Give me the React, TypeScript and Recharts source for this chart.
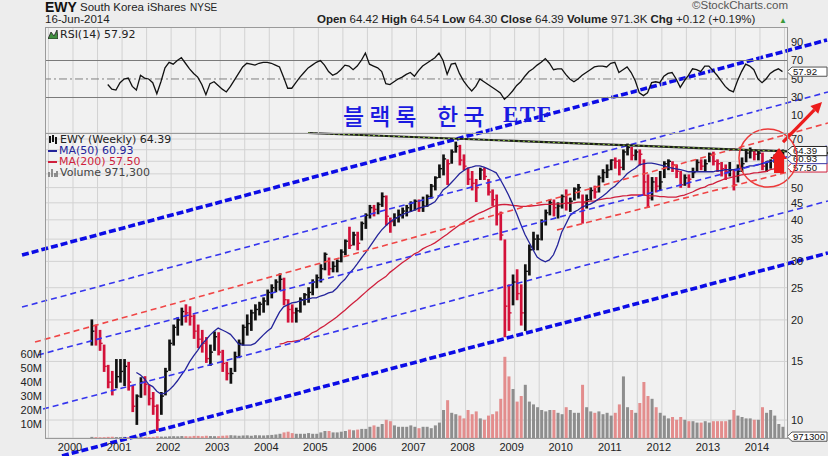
import React from "react";
import {
  ComposedChart,
  LineChart,
  Line,
  Bar,
  XAxis,
  YAxis,
  CartesianGrid,
  ReferenceLine,
  ReferenceDot,
} from "recharts";

// monthly samples, first one is May 2000
const START_YEAR = 2000;
const START_MONTH = 5;

const high = [
  20.0, 19.3, 18.6, 16.8, 14.6, 14.0, 15.2, 15.2,
  15.2, 14.9, 12.7, 11.9, 13.4, 13.5, 12.7, 12.1, 11.1, 12.1, 14.3, 17.4,
  19.3, 20.3, 21.7, 22.2, 21.9, 20.7, 19.3, 18.6, 17.7, 16.8, 18.4, 18.3,
  16.2, 14.9, 14.3, 16.0, 17.4, 19.3, 20.7, 21.4, 22.2, 22.6, 23.3, 24.6,
  25.5, 26.4, 27.5, 26.7, 23.0, 22.2, 21.7, 23.3, 24.0, 25.0, 26.4, 27.3,
  29.3, 31.8, 30.7, 29.9, 30.3, 32.5, 34.8, 38.0, 36.7, 36.7, 39.4, 41.7,
  44.2, 44.2, 45.0, 48.2, 47.2, 40.5, 41.7, 42.8, 43.4, 44.2, 45.3, 45.9,
  45.9, 46.8, 47.5, 51.1, 53.9, 58.5, 62.7, 60.6, 64.9, 68.5, 67.0, 62.7,
  57.2, 55.9, 52.9, 57.2, 57.2, 52.9, 49.2, 47.5, 42.2, 34.8, 25.5, 27.3,
  28.3, 25.5, 29.3, 33.6, 36.7, 36.0, 40.0, 42.8, 45.9, 45.9, 45.0, 47.5,
  49.2, 46.5, 49.9, 51.1, 47.5, 47.5, 49.9, 50.5, 54.2, 56.6, 58.5, 60.6,
  61.4, 60.6, 64.9, 67.6, 66.0, 64.9, 64.9, 60.6, 54.6, 53.6, 53.6, 55.9,
  59.8, 60.6, 59.8, 58.5, 55.9, 54.6, 54.6, 57.2, 60.6, 60.6, 60.6, 63.5,
  63.9, 60.6, 59.5, 58.5, 59.5, 56.6, 58.5, 61.4, 64.9, 65.8, 64.9, 64.5,
  63.5, 59.8, 60.6, 62.7, 64.9, 64.9,
];

const low = [
  16.8, 16.8, 16.2, 14.0, 12.5, 11.9, 12.5, 13.0,
  12.7, 12.3, 10.6, 9.7, 11.7, 11.9, 11.1, 10.4, 9.3, 10.4, 11.9, 14.1,
  16.8, 18.0, 19.3, 19.7, 19.3, 17.6, 16.5, 16.0, 14.9, 14.6, 16.2, 15.7,
  14.0, 13.2, 12.9, 14.0, 15.4, 16.8, 18.0, 18.6, 20.0, 20.7, 21.1, 22.2,
  23.3, 24.3, 24.6, 22.2, 19.7, 19.7, 19.7, 21.1, 22.2, 22.6, 23.8, 25.0,
  26.0, 28.3, 27.3, 27.9, 27.9, 29.9, 31.4, 32.8, 33.6, 32.5, 34.8, 37.7,
  40.5, 41.1, 41.7, 43.9, 38.6, 36.7, 38.4, 39.4, 40.5, 41.1, 42.4, 42.8,
  42.4, 42.4, 43.9, 46.5, 49.2, 53.6, 54.6, 51.1, 59.2, 63.9, 58.5, 56.6,
  51.1, 49.2, 45.4, 52.9, 52.9, 47.5, 44.2, 38.6, 34.8, 17.8, 18.6, 22.2,
  23.0, 19.3, 18.6, 27.3, 32.5, 32.5, 34.8, 38.6, 41.4, 41.1, 40.5, 43.4,
  42.8, 42.4, 45.9, 46.5, 39.1, 43.4, 45.9, 46.5, 48.5, 52.0, 53.6, 56.6,
  57.2, 54.6, 56.6, 62.7, 60.6, 60.6, 58.5, 47.5, 43.6, 45.9, 48.5, 49.2,
  53.6, 56.6, 55.9, 53.6, 50.1, 50.8, 50.1, 53.6, 55.9, 56.6, 55.9, 59.8,
  58.5, 55.9, 54.2, 52.9, 54.2, 49.2, 52.0, 55.9, 59.8, 61.4, 60.6, 60.6,
  56.6, 55.9, 57.2, 59.5, 60.6, 62.5,
];

const close = [
  18.5, 17.5, 17.0, 14.5, 13.0, 12.3, 13.5, 14.0,
  14.5, 13.0, 11.0, 11.8, 13.0, 12.8, 11.6, 11.0, 10.0, 11.8, 14.0, 17.0,
  19.0, 20.0, 21.2, 21.0, 20.5, 18.5, 17.5, 17.0, 15.3, 16.0, 17.8, 16.0,
  14.8, 13.8, 13.8, 15.5, 17.0, 19.0, 19.5, 21.0, 21.5, 22.3, 22.8, 24.2,
  25.0, 26.0, 26.5, 23.0, 21.5, 21.0, 21.3, 23.0, 23.8, 24.2, 26.0, 26.8,
  28.5, 31.5, 28.5, 29.0, 30.0, 32.0, 34.5, 33.5, 36.0, 34.0, 39.0, 41.3,
  43.5, 43.0, 44.5, 47.0, 41.0, 39.5, 40.5, 41.5, 42.5, 43.5, 45.0, 45.5,
  43.5, 44.0, 47.0, 50.5, 53.5, 57.0, 61.0, 59.0, 64.0, 66.5, 60.5, 58.0,
  53.0, 51.5, 50.0, 56.5, 54.0, 48.5, 46.0, 41.5, 36.0, 22.0, 21.0, 26.0,
  24.0, 21.0, 28.0, 32.5, 35.0, 35.0, 39.5, 42.0, 45.0, 43.5, 44.0, 47.0,
  45.0, 45.5, 49.5, 50.0, 45.0, 46.0, 49.0, 48.5, 53.5, 55.5, 56.5, 60.5,
  60.0, 57.5, 64.0, 66.0, 62.5, 64.0, 63.0, 52.0, 46.5, 52.0, 50.5, 52.0,
  59.0, 60.0, 58.5, 56.0, 51.0, 53.5, 53.0, 55.5, 59.5, 58.0, 59.0, 63.0,
  60.0, 59.0, 57.0, 56.0, 56.5, 51.0, 56.0, 59.0, 63.5, 64.5, 63.0, 63.5,
  58.0, 60.0, 61.5, 62.5, 64.0, 64.39,
];

const ma50 = [
  null, null, null, null, null, null, null, null,
  null, null, null, 13.9, 13.65, 13.3, 12.8, 12.6, 12.2, 11.97, 12.05, 12.3,
  12.65, 13.1, 13.65, 14.2, 14.95, 15.6, 16.2, 16.9, 17.4, 18.0, 18.5, 18.9,
  18.65, 18.4, 18.1, 17.5, 16.9, 16.8, 16.8, 16.8, 17.0, 17.5, 18.0, 18.5,
  18.9, 20.0, 21.1, 21.9, 22.2, 22.5, 22.6, 22.8, 23.0, 23.1, 23.3, 23.3,
  23.6, 23.8, 24.1, 24.3, 24.9, 25.8, 26.5, 27.5, 28.4, 29.5, 30.7, 31.8,
  33.1, 34.5, 36.0, 37.3, 38.4, 39.4, 40.2, 40.8, 41.4, 42.0, 42.3, 42.8,
  43.4, 43.7, 44.0, 44.6, 45.3, 47.1, 49.2, 50.2, 51.7, 53.3, 55.0, 56.2,
  57.2, 57.6, 58.1, 58.1, 57.6, 56.9, 56.2, 55.4, 52.9, 50.2, 47.5, 44.6,
  41.7, 38.8, 36.2, 34.3, 32.5, 30.9, 30.3, 29.9, 30.3, 31.4, 33.6, 36.7,
  38.8, 41.1, 42.2, 42.8, 43.7, 44.2, 44.6, 45.3, 46.2, 47.1, 48.2, 49.5,
  50.5, 52.0, 53.3, 55.0, 56.2, 57.2, 58.5, 58.9, 59.2, 59.2, 58.9, 58.5,
  58.1, 57.6, 57.2, 56.9, 56.6, 56.2, 55.8, 55.8, 55.8, 55.8, 55.8, 55.8,
  55.8, 56.2, 56.2, 56.6, 56.6, 56.6, 56.9, 57.2, 57.6, 58.1, 58.1, 58.5,
  59.0, 59.4, 59.9, 60.3, 60.6, 60.93,
];

const ma200 = [
  null, null, null, null, null, null, null, null,
  null, null, null, null, null, null, null, null, null, null, null, null,
  null, null, null, null, null, null, null, null, null, null, null, null,
  null, null, null, null, null, null, null, null, null, null, null, null,
  null, null, 16.9, 17.0, 17.2, 17.2, 17.3, 17.4, 17.6, 17.9, 18.3, 18.5,
  18.9, 19.2, 19.6, 20.0, 20.4, 20.9, 21.4, 21.95, 22.5, 23.0, 23.6, 24.2,
  24.8, 25.4, 26.0, 26.5, 27.0, 27.8, 28.4, 29.05, 29.7, 30.3, 30.9, 31.6,
  32.0, 32.7, 33.2, 33.6, 34.1, 34.8, 35.5, 36.2, 37.0, 37.8, 38.6, 39.3,
  40.0, 40.7, 41.4, 42.0, 42.5, 43.1, 43.7, 44.2, 44.4, 44.5, 44.4, 44.2,
  44.1, 43.9, 43.9, 43.9, 44.1, 44.2, 44.4, 44.5, 44.5, 44.5, 44.7, 44.7,
  44.9, 44.9, 45.0, 45.2, 45.2, 45.4, 45.5, 45.5, 45.9, 46.2, 46.4, 46.5,
  46.8, 47.0, 47.2, 47.3, 47.5, 47.5, 47.5, 47.5, 47.3, 47.2, 47.2, 47.0,
  47.0, 46.8, 46.8, 46.8, 47.2, 47.5, 48.0, 48.5, 49.2, 49.8, 50.2, 51.0,
  51.3, 52.0, 52.6, 53.2, 53.5, 53.9, 54.2, 54.6, 54.8, 55.0, 55.4, 55.5,
  55.7, 55.9, 56.6, 56.9, 57.2, 57.5,
];

const rsi = [
  null, null, null, null, 44, 39, 38, 46,
  50, 51, 42, 38, 54, 51, 50, 46, 34, 47, 62, 68,
  66, 70, 73, 67, 61, 56, 52, 44, 33, 45, 47, 43,
  39, 36, 42, 49, 56, 63, 67, 66, 65, 67, 68, 68,
  67, 65, 63, 52, 40, 40, 46, 52, 57, 62, 65, 68,
  70, 65, 58, 54, 56, 60, 65, 64, 60, 64, 70, 78,
  66, 64, 62, 58, 45, 44, 47, 50, 52, 55, 57, 53,
  59, 64, 67, 70, 73, 78, 70, 55, 66, 67, 56, 48,
  42, 37, 42, 50, 47, 44, 41, 38, 35, 28, 32, 37,
  43, 47, 53, 58, 61, 65, 68, 72, 67, 60, 61, 61,
  55, 50, 47, 50, 54, 57, 60, 63, 64, 64, 63, 67,
  68, 57, 60, 63, 57, 48, 35, 32, 35, 46, 47, 46,
  53, 56, 57, 50, 41, 48, 54, 61, 60, 58, 64, 64,
  59, 54, 48, 42, 38, 36, 48, 58, 66, 64, 60, 50,
  46, 50, 56, 59, 61, 57.92,
];

// millions of shares
const volume = [
  0.8, 0.6, 0.5, 0.6, 0.8, 0.9, 0.7, 0.7,
  0.8, 0.7, 0.9, 1.0, 0.8, 0.7, 0.7, 0.8, 1.2, 1.0, 1.0, 1.2,
  1.3, 1.2, 1.4, 1.3, 1.2, 1.5, 1.5, 1.3, 1.6, 1.4, 1.3, 1.3,
  1.6, 1.8, 2.0, 1.8, 1.6, 1.8, 1.9, 1.6, 2.0, 1.9, 1.8, 2.0,
  2.2, 2.5, 3.0, 4.0, 4.5, 3.5, 3.0, 3.0, 3.0, 3.5, 3.0, 3.0,
  4.0, 5.0, 5.0, 4.0, 4.0, 4.5, 5.0, 6.0, 5.5, 6.0, 6.5, 6.5,
  8.0, 9.0, 8.0, 10.0, 13.0, 12.0, 9.0, 8.0, 8.0, 8.0, 9.0, 8.0,
  7, 8, 8, 7, 9, 11, 20, 27, 18, 17, 16, 14,
  20, 17, 19, 14, 13, 16, 17, 19, 28, 58, 44, 35,
  26, 30, 38, 26, 24, 22, 20, 19, 20, 20, 18, 17,
  22, 20, 18, 18, 38, 22, 19, 18, 19, 17, 18, 16,
  18, 24, 44, 22, 20, 18, 25, 40, 30, 28, 22, 18,
  16, 14, 15, 13, 15, 13, 12, 12, 11, 11, 12, 11,
  12, 12, 12, 12, 13, 20, 16, 15, 14, 14, 13, 13,
  22, 18, 20, 16, 10, 8,
];

const halfYearTicks = [
  1999.5, 2000, 2000.5, 2001, 2001.5, 2002, 2002.5, 2003, 2003.5, 2004, 2004.5,
  2005, 2005.5, 2006, 2006.5, 2007, 2007.5, 2008, 2008.5, 2009, 2009.5, 2010,
  2010.5, 2011, 2011.5, 2012, 2012.5, 2013, 2013.5, 2014, 2014.5,
];
const priceTicks = [10, 15, 20, 25, 30, 35, 40, 45, 50, 55, 60, 65, 70];
const hiddenPriceLabels = [55, 60, 65]; // sit under the value tags
const rsiLabels = [30, 50, 70, 90];
const rsiLowLabel = 10;
const rsiGrid = [10, 20, 30, 40, 50, 60, 70, 80, 90];
const volTicks = [10e6, 20e6, 30e6, 40e6, 50e6, 60e6];

// hand drawn trend lines: [year, price] -> [year, price]
const trendLines = [
  { kind: "thick", a: [1998.961, 31.35], b: [2015.366, 138.96] },
  { kind: "thick", a: [1999.776, 7.8], b: [2015.386, 31.79] },
  { kind: "thin", a: [1998.961, 21.87], b: [2015.386, 96.94] },
  { kind: "thin", a: [1999.287, 15.69], b: [2015.386, 66.7] },
  { kind: "thin", a: [1999.389, 10.79], b: [2015.386, 45.57] },
  { kind: "red", a: [1999.226, 17.16], b: [2015.386, 78.2] },
  { kind: "red", a: [2009.863, 37.28], b: [2015.386, 59.69] },
];
const resistance = { a: [2004.789, 72.98], b: [2015.386, 63.54] };
const arrowLine = { a: [2014.469, 68.56], b: [2015.264, 90.45] };
const circleAt = [2014.163, 61.38];
const blockArrowAt = [2014.388, 60.5];

const X_DOMAIN = [1999.4294, 2014.5506];
const P_DOMAIN = [8.828, 72.98];
const V_DOMAIN = [0, 217.9e6];
const R_DOMAIN = [-8.4, 106.2];

// RSI panel geometry
const RSI_TOP = 27;
const RSI_BOTTOM = 133;
const rsiY = (v: number) => RSI_TOP + ((R_DOMAIN[1] - v) / (R_DOMAIN[1] - R_DOMAIN[0])) * (RSI_BOTTOM - RSI_TOP);

const lineStyle: Record<string, any> = {
  thick: { stroke: "#0c0ce6", strokeWidth: 3.6, strokeDasharray: "7 3" },
  thin: { stroke: "#3535ee", strokeWidth: 1.6, strokeDasharray: "6 4" },
  red: { stroke: "#f04646", strokeWidth: 1.6, strokeDasharray: "6 4" },
};

const rows = high.map((h, i) => {
  const m = START_MONTH - 1 + i;
  return {
    t: START_YEAR + (m + 0.5) / 12,
    range: [low[i], h],
    close: close[i],
    up: i === 0 ? true : close[i] >= close[i - 1],
    ma50: ma50[i],
    ma200: ma200[i],
    rsi: rsi[i],
    vol: volume[i] * 1e6,
  };
});

const FONT = '"Liberation Sans", Arial, sans-serif';
const LEG = '"DejaVu Sans", Verdana, sans-serif';
const KR_BLUE = "#1a1ae0";
const PANEL_BG = "#f1f1f1";

const PriceBar = (p: any) => {
  const { x, y, width, height, payload } = p;
  if (!payload || !isFinite(y) || !isFinite(height)) return null;
  const top = Math.min(y, y + height);
  const bot = Math.max(y, y + height);
  const [lo, hi] = payload.range;
  const cy = top + ((bot - top) * (Math.log(hi) - Math.log(payload.close))) / (Math.log(hi) - Math.log(lo));
  const cx = x + width / 2;
  const c = payload.up ? "#111" : "#d3123a";
  return (
    <g>
      <line x1={cx} x2={cx} y1={top - 0.5} y2={bot + 0.5} stroke={c} strokeWidth={2.7} />
      <line x1={cx} x2={cx + 2.6} y1={cy} y2={cy} stroke={c} strokeWidth={1.4} />
    </g>
  );
};

const VolBar = (p: any) => {
  const { x, y, width, height, payload } = p;
  if (!payload || !isFinite(y) || !isFinite(height)) return null;
  return <rect x={x} y={y} width={width} height={Math.max(height, 0.6)} fill={payload.up ? "#8e8e8e" : "#e38d8d"} />;
};

const YearTick = ({ x, y, payload }: any) =>
  Number.isInteger(payload.value) ? (
    <text x={x - 3} y={y + 13} textAnchor="middle" fontSize={11} fontFamily={FONT} fill="#222">
      {payload.value}
    </text>
  ) : (
    <g />
  );

// right-hand axis label drawn at a reference line's right end
const sideLabel = (text: string) => (props: any) => {
  const vb = props.viewBox;
  if (!vb) return null;
  return (
    <text x={vb.x + vb.width + 4} y={vb.y + 4} fontSize={11} fontFamily={FONT} fill="#222">
      {text}
    </text>
  );
};

const tag = (text: string, stroke: string, color = "#111") => (props: any) => {
  const vb = props.viewBox;
  if (!vb) return null;
  const x = vb.x + vb.width;
  const y = vb.y;
  return (
    <g>
      <path d={`M${x} ${y} L${x + 5} ${y - 4.6} H${x + 40} V${y + 4.6} H${x + 5} Z`} fill="#fff" stroke={stroke} strokeWidth={1} />
      <text x={x + 6} y={y + 3.3} fontSize={9.6} fontFamily={FONT} fill={color}>
        {text}
      </text>
    </g>
  );
};

const Arrow = (p: any) => {
  const { x1, y1, x2, y2 } = p;
  const ang = Math.atan2(y2 - y1, x2 - x1);
  const L = 11;
  const W = 5.5;
  const bx = x2 - L * Math.cos(ang);
  const by = y2 - L * Math.sin(ang);
  const pts = [
    [x2, y2],
    [bx - W * Math.sin(ang), by + W * Math.cos(ang)],
    [bx + W * Math.sin(ang), by - W * Math.cos(ang)],
  ];
  return (
    <g>
      <line x1={x1} y1={y1} x2={bx} y2={by} stroke="#ec1c1c" strokeWidth={3.2} />
      <polygon points={pts.map((q) => q.join(",")).join(" ")} fill="#ec1c1c" />
    </g>
  );
};

const BlockArrow = ({ cx, cy }: any) => (
  <polygon
    points={`${cx},${cy - 12} ${cx + 8},${cy - 1} ${cx + 5},${cy - 1} ${cx + 5},${cy + 13} ${cx - 5},${cy + 13} ${cx - 5},${cy - 1} ${cx - 8},${cy - 1}`}
    fill="#ec1c1c"
  />
);

const abs = (l: number, t: number, extra: any = {}) => ({ position: "absolute" as const, left: l, top: t, whiteSpace: "nowrap" as const, ...extra });
const krStyle = { fontFamily: '"Noto Sans CJK KR"', fontSize: 23, fontWeight: 500, color: KR_BLUE, letterSpacing: 5, lineHeight: "26px" };

export default function App() {
  return (
    <div style={{ position: "fixed", left: 0, top: 0, width: 828, height: 456, background: "#ededed", overflow: "hidden" }}>
      {/* RSI panel background, sits under both charts */}
      <div style={abs(45, RSI_TOP, { width: 742, height: RSI_BOTTOM - RSI_TOP, background: PANEL_BG })} />

      {/* price + volume panel */}
      <div style={abs(0, 0, { zIndex: 1 })}>
        <ComposedChart width={828} height={456} data={rows} margin={{ top: 133, right: 0, bottom: 0, left: 0 }}>
          <CartesianGrid xAxisId="p" yAxisId="price" stroke="#d2d2d2" fill={PANEL_BG} verticalValues={halfYearTicks} />
          <XAxis
            xAxisId="p"
            dataKey="t"
            type="number"
            domain={X_DOMAIN}
            ticks={halfYearTicks}
            interval={0}
            allowDataOverflow
            height={18}
            tickLine={false}
            axisLine={false}
            tickSize={0}
            tickMargin={0}
            tick={<YearTick />}
          />
          <XAxis xAxisId="v" dataKey="t" type="number" domain={X_DOMAIN} allowDataOverflow hide />
          <YAxis
            yAxisId="price"
            orientation="right"
            width={41}
            scale="log"
            domain={P_DOMAIN}
            ticks={priceTicks}
            interval={0}
            allowDataOverflow
            tickLine={false}
            axisLine={false}
            tickSize={0}
            tickMargin={4}
            tickFormatter={(v: number) => (hiddenPriceLabels.includes(v) ? "" : String(v))}
            tick={{ fontSize: 11, fill: "#222", fontFamily: FONT }}
          />
          <YAxis
            yAxisId="vol"
            orientation="left"
            width={45}
            domain={V_DOMAIN}
            ticks={volTicks}
            interval={0}
            allowDataOverflow
            tickLine={false}
            axisLine={false}
            tickSize={0}
            tickMargin={3}
            tickFormatter={(v: number) => `${v / 1e6}M`}
            tick={{ fontSize: 11, fill: "#222", fontFamily: FONT }}
          />
          <Bar xAxisId="v" yAxisId="vol" dataKey="vol" barSize={3} shape={<VolBar />} isAnimationActive={false} />
          <Bar xAxisId="p" yAxisId="price" dataKey="range" barSize={3} shape={<PriceBar />} isAnimationActive={false} />
          <Line xAxisId="p" yAxisId="price" dataKey="ma200" stroke="#cf1f3c" strokeWidth={1.3} dot={false} isAnimationActive={false} />
          <Line xAxisId="p" yAxisId="price" dataKey="ma50" stroke="#24249a" strokeWidth={1.3} dot={false} isAnimationActive={false} />
          {trendLines.map((l, i) => (
            <ReferenceLine
              key={i}
              xAxisId="p"
              yAxisId="price"
              ifOverflow="visible"
              segment={[
                { x: l.a[0], y: l.a[1] },
                { x: l.b[0], y: l.b[1] },
              ]}
              {...lineStyle[l.kind]}
            />
          ))}
          <ReferenceLine
            xAxisId="p"
            yAxisId="price"
            ifOverflow="visible"
            segment={[
              { x: resistance.a[0], y: resistance.a[1] },
              { x: resistance.b[0], y: resistance.b[1] },
            ]}
            stroke="#1b1b1b"
            strokeWidth={2.2}
          />
          <ReferenceLine
            xAxisId="p"
            yAxisId="price"
            ifOverflow="visible"
            segment={[
              { x: resistance.a[0], y: resistance.a[1] },
              { x: resistance.b[0], y: resistance.b[1] },
            ]}
            stroke="#8cc63f"
            strokeWidth={1}
            strokeDasharray="2 3"
          />
          <ReferenceDot
            xAxisId="p"
            yAxisId="price"
            x={circleAt[0]}
            y={circleAt[1]}
            r={29}
            fill="none"
            stroke="#ec3a3a"
            strokeWidth={1.5}
            ifOverflow="visible"
          />
          <ReferenceDot xAxisId="p" yAxisId="price" x={blockArrowAt[0]} y={blockArrowAt[1]} ifOverflow="visible" shape={<BlockArrow />} />
          <ReferenceLine
            xAxisId="p"
            yAxisId="price"
            ifOverflow="visible"
            segment={[
              { x: arrowLine.a[0], y: arrowLine.a[1] },
              { x: arrowLine.b[0], y: arrowLine.b[1] },
            ]}
            shape={(p: any) => <Arrow {...p} />}
          />
          <ReferenceLine xAxisId="p" yAxisId="price" y={57.5} stroke="none" label={tag("57.50", "#d0203c")} />
          <ReferenceLine xAxisId="p" yAxisId="price" y={60.93} stroke="none" label={tag("60.93", "#3a3aa8")} />
          <ReferenceLine xAxisId="p" yAxisId="price" y={64.39} stroke="none" label={tag("64.39", "#222")} />
          <ReferenceLine xAxisId="v" yAxisId="vol" y={971300} stroke="none" label={tag("971300", "#555")} />
        </ComposedChart>
      </div>

      {/* RSI panel, drawn over the price chart's overflow */}
      <div style={abs(0, 0, { zIndex: 2, pointerEvents: "none" })}>
        <LineChart width={828} height={140} data={rows} margin={{ top: RSI_TOP, right: 0, bottom: 140 - RSI_BOTTOM, left: 45 }}>
          <CartesianGrid stroke="#d2d2d2" fill="none" horizontalValues={rsiGrid} verticalValues={halfYearTicks} />
          <XAxis dataKey="t" type="number" domain={X_DOMAIN} ticks={halfYearTicks} interval={0} allowDataOverflow hide />
          <YAxis orientation="right" width={41} type="number" domain={R_DOMAIN} allowDataOverflow tick={false} tickLine={false} axisLine={false} />
          <ReferenceLine y={70} stroke="#7a7a7a" strokeWidth={1.2} />
          <ReferenceLine y={30} stroke="#7a7a7a" strokeWidth={1.2} />
          <ReferenceLine y={50} stroke="#808080" strokeWidth={1} strokeDasharray="8 3 2 3" />
          {rsiLabels.map((v) => (
            <ReferenceLine key={v} y={v} stroke="none" ifOverflow="visible" label={sideLabel(String(v))} />
          ))}
          <Line dataKey="rsi" stroke="#111" strokeWidth={1.3} dot={false} isAnimationActive={false} connectNulls={false} />
          <ReferenceLine y={57.92} stroke="none" label={tag("57.92", "#555")} />
        </LineChart>
      </div>

      {/* panel frames */}
      <div style={abs(45, RSI_TOP, { width: 741, height: RSI_BOTTOM - RSI_TOP - 1, border: "1px solid #9a9a9a", pointerEvents: "none", zIndex: 3 })} />
      <div style={abs(45, 133, { width: 741, height: 304, border: "1px solid #9a9a9a", pointerEvents: "none", zIndex: 3 })} />

      <div style={{ position: "absolute", left: 0, top: 0, zIndex: 4 }}>
        {/* lowest RSI axis label */}
        <div style={abs(791, rsiY(rsiLowLabel) - 7, { fontFamily: FONT, fontSize: 11, lineHeight: "13px", color: "#222" })}>{rsiLowLabel}</div>

        {/* header */}
        <div style={abs(45, -1, { fontFamily: FONT, fontSize: 14, fontWeight: 700, color: "#111" })}>EWY</div>
        <div style={abs(80, 1, { fontFamily: FONT, fontSize: 11.5, color: "#222" })}>South Korea iShares</div>
        <div style={abs(190, 2, { fontFamily: FONT, fontSize: 10, color: "#222" })}>NYSE</div>
        <div style={abs(45, 13, { fontFamily: FONT, fontSize: 11.5, color: "#222" })}>16-Jun-2014</div>
        <div style={abs(692, -1, { fontFamily: FONT, fontSize: 11.5, color: "#555" })}>©StockCharts.com</div>
        <div style={abs(317, 13, { fontFamily: FONT, fontSize: 11.5, color: "#222" })}>
          <b>Open</b> 64.42 <b>High</b> 64.54 <b>Low</b> 64.30 <b>Close</b> 64.39 <b>Volume</b> 971.3K <b>Chg</b> +0.12 (+0.19%)
        </div>
        <div style={abs(779, 16, { fontSize: 8, color: "#3a9a3a" })}>▲</div>

        {/* RSI legend */}
        <div style={abs(48, 28, { fontFamily: LEG, fontSize: 11, color: "#222", display: "flex", alignItems: "center" })}>
          <svg width={10} height={9} style={{ marginRight: 2 }}>
            <polygon points="0,9 3,2 6,6 9,0 10,9" fill="#3f8f3f" stroke="#222" strokeWidth={0.8} />
          </svg>
          RSI(14) 57.92
        </div>

        {/* price legend */}
        <div style={abs(48, 134, { fontFamily: LEG, fontSize: 11, lineHeight: "11px", color: "#222" })}>
          <div style={{ display: "flex", alignItems: "center" }}>
            <svg width={10} height={9} style={{ marginRight: 2 }}>
              <path d="M2 1 V8 M5 0 V7 M8 2 V9" stroke="#111" strokeWidth={2} />
            </svg>
            EWY (Weekly) 64.39
          </div>
          <div style={{ display: "flex", alignItems: "center", color: "#24249a" }}>
            <span style={{ display: "inline-block", width: 9, height: 2, background: "#24249a", marginRight: 2 }} />
            MA(50) 60.93
          </div>
          <div style={{ display: "flex", alignItems: "center", color: "#cf1f3c" }}>
            <span style={{ display: "inline-block", width: 9, height: 2, background: "#cf1f3c", marginRight: 2 }} />
            MA(200) 57.50
          </div>
          <div style={{ display: "flex", alignItems: "center", color: "#444" }}>
            <svg width={10} height={9} style={{ marginRight: 2 }}>
              <path d="M1 9 V4 M4 9 V1 M7 9 V5 M9 9 V3" stroke="#777" strokeWidth={1.6} />
            </svg>
            Volume 971,300
          </div>
        </div>

        {/* Korean title */}
        <div style={abs(343, 102, krStyle)}>블랙록</div>
        <div style={abs(437, 102, krStyle)}>한국</div>
        <div style={abs(503, 102, { fontFamily: '"Liberation Serif", serif', fontSize: 23, fontWeight: 700, color: KR_BLUE, letterSpacing: 1.5, lineHeight: "26px" })}>
          ETF
        </div>
      </div>
    </div>
  );
}
